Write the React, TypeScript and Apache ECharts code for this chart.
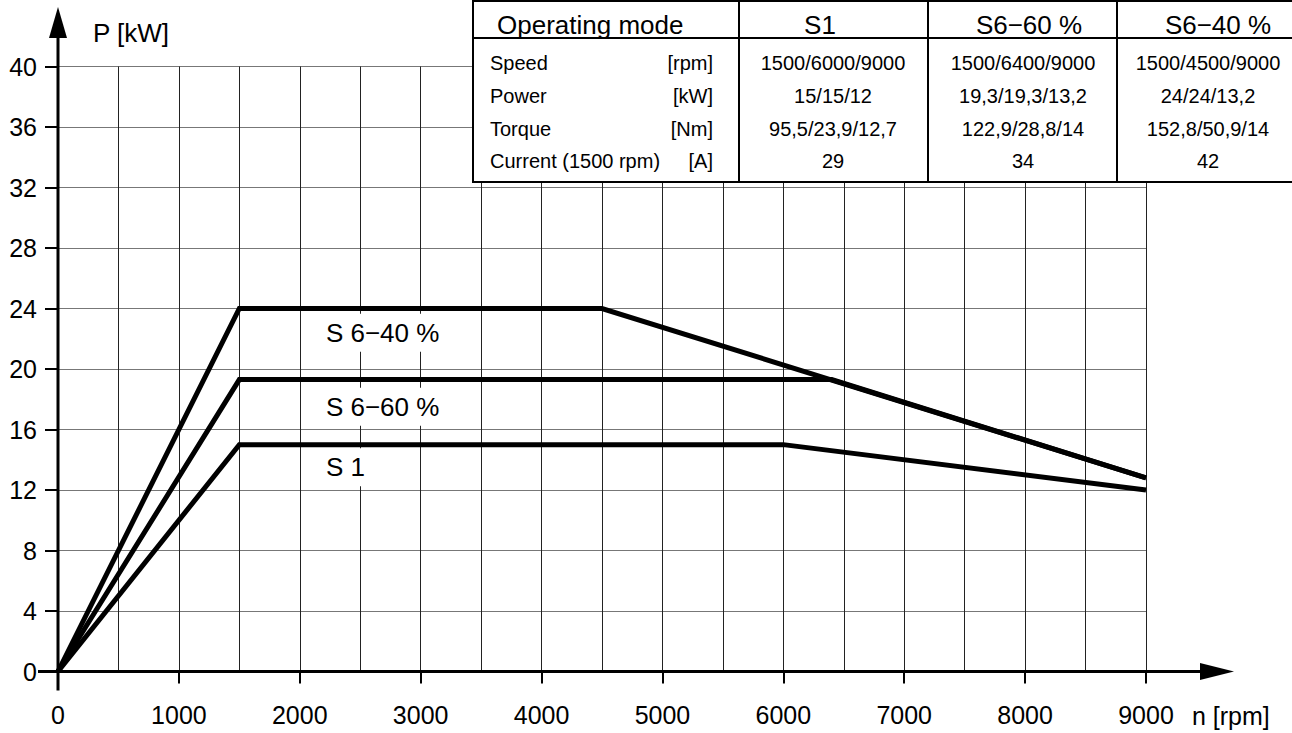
import React, { useEffect, useRef } from "react";
import * as echarts from "echarts";

// Power curves P(n) for the three operating modes: [speed rpm, power kW]
const curveS1: [number, number][] = [[0, 0], [1500, 15], [6000, 15], [9000, 12]];
const curveS660: [number, number][] = [[0, 0], [1500, 19.3], [6400, 19.3], [9000, 12.8]];
const curveS640: [number, number][] = [[0, 0], [1500, 24], [4500, 24], [9000, 12.8]];

const curveNames = ["S 1", "S 6\u221260 %", "S 6\u221240 %"];

// Data sheet table
const tableHeader = ["Operating mode", "S1", "S6\u221260 %", "S6\u221240 %"];
const rowLabels = ["Speed", "Power", "Torque", "Current (1500 rpm)"];
const rowUnits = ["[rpm]", "[kW]", "[Nm]", "[A]"];
const valuesS1 = ["1500/6000/9000", "15/15/12", "95,5/23,9/12,7", "29"];
const valuesS660 = ["1500/6400/9000", "19,3/19,3/13,2", "122,9/28,8/14", "34"];
const valuesS640 = ["1500/4500/9000", "24/24/13,2", "152,8/50,9/14", "42"];

const FONT = '"Liberation Sans", Arial, Helvetica, sans-serif';

export default function App() {
  const ref = useRef<HTMLDivElement>(null);

  useEffect(() => {
    if (!ref.current) return;
    const chart = echarts.init(ref.current, undefined, { renderer: "svg" });

    const lineSeries = (name: string, data: [number, number][]) => ({
      name,
      type: "line",
      data,
      showSymbol: false,
      symbol: "none",
      z: 5,
      lineStyle: { color: "#000", width: 5, join: "miter", cap: "butt" },
    });

    chart.setOption({
      animation: false,
      backgroundColor: "#fff",
      grid: { left: 58, right: 146, top: 66.5, bottom: 61.5, containLabel: false },
      xAxis: {
        type: "value",
        min: 0,
        max: 9000,
        interval: 1000,
        axisLine: { show: false },
        axisTick: { show: true, length: 12, lineStyle: { color: "#000", width: 2 } },
        axisLabel: {
          color: "#000",
          fontSize: 25,
          fontFamily: FONT,
          margin: 31,
          formatter: (v: number) => String(v),
        },
        splitLine: { show: true, lineStyle: { color: "#222", width: 1 } },
        minorTick: { show: false, splitNumber: 2 },
        minorSplitLine: { show: true, lineStyle: { color: "#222", width: 1 } },
      },
      yAxis: {
        type: "value",
        min: 0,
        max: 40,
        interval: 4,
        axisLine: { show: false },
        axisTick: { show: true, length: 13, lineStyle: { color: "#000", width: 2 } },
        axisLabel: {
          color: "#000",
          fontSize: 25,
          fontFamily: FONT,
          margin: 21,
          formatter: (v: number) => String(v),
        },
        splitLine: { show: true, lineStyle: { color: "#777", width: 1 } },
      },
      series: [
        lineSeries(curveNames[0], curveS1),
        lineSeries(curveNames[1], curveS660),
        lineSeries(curveNames[2], curveS640),
      ],
    });

    const [ox, oy] = chart.convertToPixel({ gridIndex: 0 }, [0, 0]) as number[];

    const txt = (
      text: string,
      x: number,
      y: number,
      size: number,
      align: string = "left",
      extra: any = {}
    ) => ({
      type: "text",
      x,
      y,
      z: 110,
      style: {
        text,
        fill: "#000",
        fontSize: size,
        fontFamily: FONT,
        align,
        verticalAlign: "middle",
        ...extra,
      },
    });

    const graphics: any[] = [];

    // Axes with arrow heads
    graphics.push({
      type: "line",
      z: 50,
      shape: { x1: ox, y1: oy + 19, x2: ox, y2: 34 },
      style: { stroke: "#000", lineWidth: 3 },
    });
    graphics.push({
      type: "polygon",
      z: 50,
      shape: { points: [[ox, 7], [ox - 9, 38], [ox + 9, 38]] },
      style: { fill: "#000" },
    });
    graphics.push({
      type: "line",
      z: 50,
      shape: { x1: ox - 20, y1: oy, x2: 1205, y2: oy },
      style: { stroke: "#000", lineWidth: 3 },
    });
    graphics.push({
      type: "polygon",
      z: 50,
      shape: { points: [[1234, oy], [1200, oy - 8.5], [1200, oy + 8.5]] },
      style: { fill: "#000" },
    });

    // Axis titles
    graphics.push(txt("P [kW]", 93, 33, 26));
    graphics.push(txt("n [rpm]", 1192, 716, 25));

    // Curve labels, anchored in data space
    const labelAnchors: [number, number][] = [[2150, 13.5], [2150, 17.5], [2150, 22.4]];
    curveNames.forEach((name, i) => {
      const [px, py] = chart.convertToPixel({ gridIndex: 0 }, labelAnchors[i]) as number[];
      graphics.push(
        txt(name, px, py, 26, "left", {
          backgroundColor: "#fff",
          padding: [6, 8, 6, 8],
        })
      );
    });

    // Table
    const tL = 473;
    const tR = 1320;
    const tT = 1;
    const tB = 182;
    const headY = 38;
    const colX = [739, 928, 1117];
    graphics.push({
      type: "rect",
      z: 100,
      shape: { x: tL, y: tT, width: tR - tL, height: tB - tT },
      style: { fill: "#fff", stroke: "#000", lineWidth: 2 },
    });
    graphics.push({
      type: "line",
      z: 101,
      shape: { x1: tL, y1: headY, x2: tR, y2: headY },
      style: { stroke: "#000", lineWidth: 2 },
    });
    colX.forEach((cx) =>
      graphics.push({
        type: "line",
        z: 101,
        shape: { x1: cx, y1: tT, x2: cx, y2: tB },
        style: { stroke: "#000", lineWidth: 2 },
      })
    );

    const headerX = [497, 820, 1029, 1218];
    tableHeader.forEach((h, i) =>
      graphics.push(txt(h, headerX[i], 25, 26, i === 0 ? "left" : "center"))
    );

    const rowY = [63, 96, 129, 161];
    const valueCols = [valuesS1, valuesS660, valuesS640];
    const valueX = [833, 1023, 1208];
    rowLabels.forEach((label, r) => {
      graphics.push(txt(label, 490, rowY[r], 20, "left"));
      graphics.push(txt(rowUnits[r], 713, rowY[r], 20, "right"));
      valueCols.forEach((col, c) => graphics.push(txt(col[r], valueX[c], rowY[r], 20, "center")));
    });

    chart.setOption({ graphic: graphics });

    return () => chart.dispose();
  }, []);

  return (
    <div
      ref={ref}
      style={{ position: "absolute", left: 0, top: 0, width: 1292, height: 733, background: "#fff" }}
    />
  );
}
